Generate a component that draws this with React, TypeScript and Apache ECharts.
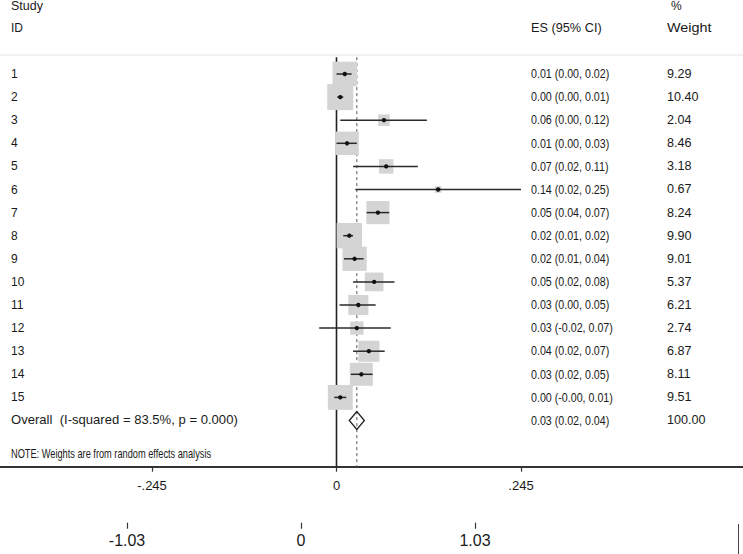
import React, { useEffect, useRef } from "react";
import * as echarts from "echarts";

// ---------- data ----------
const studyIds = ["1", "2", "3", "4", "5", "6", "7", "8", "9", "10", "11", "12", "13", "14", "15"];
const esPoint = [0.011, 0.005, 0.063, 0.014, 0.066, 0.135, 0.055, 0.017, 0.024, 0.05, 0.029, 0.027, 0.043, 0.033, 0.005];
const ciLow = [0.0, 0.001, 0.005, 0.0, 0.022, 0.025, 0.04, 0.009, 0.01, 0.022, 0.004, -0.023, 0.022, 0.019, -0.003];
const ciHigh = [0.02, 0.009, 0.12, 0.027, 0.108, 0.245, 0.07, 0.022, 0.036, 0.077, 0.052, 0.072, 0.064, 0.048, 0.013];
const weights = [9.29, 10.4, 2.04, 8.46, 3.18, 0.67, 8.24, 9.9, 9.01, 5.37, 6.21, 2.74, 6.87, 8.11, 9.51];
const esLabels = [
  "0.01 (0.00, 0.02)",
  "0.00 (0.00, 0.01)",
  "0.06 (0.00, 0.12)",
  "0.01 (0.00, 0.03)",
  "0.07 (0.02, 0.11)",
  "0.14 (0.02, 0.25)",
  "0.05 (0.04, 0.07)",
  "0.02 (0.01, 0.02)",
  "0.02 (0.01, 0.04)",
  "0.05 (0.02, 0.08)",
  "0.03 (0.00, 0.05)",
  "0.03 (-0.02, 0.07)",
  "0.04 (0.02, 0.07)",
  "0.03 (0.02, 0.05)",
  "0.00 (-0.00, 0.01)",
];
const weightLabels = ["9.29", "10.40", "2.04", "8.46", "3.18", "0.67", "8.24", "9.90", "9.01", "5.37", "6.21", "2.74", "6.87", "8.11", "9.51"];

const overallEs = 0.027;
const overallLow = 0.017;
const overallHigh = 0.037;
const overallLabel = "Overall  (I-squared = 83.5%, p = 0.000)";
const overallEsLabel = "0.03 (0.02, 0.04)";
const overallWeightLabel = "100.00";
const noteText = "NOTE: Weights are from random effects analysis";

const topTickValues = [-0.245, 0, 0.245];
const topTickLabels = ["-.245", "0", ".245"];
const bottomTickValues = [-1.03, 0, 1.03];
const bottomTickLabels = ["-1.03", "0", "1.03"];

// ---------- layout / style ----------
const W = 743;
const H = 554;
const FONT = "Liberation Sans, Arial, sans-serif";
const TXT = "#1a1a1a";
const BOX_PER_SQRT_W = 8.07;
const COL_ID = 11;
const COL_ES = 531;
const COL_W = 667;

function pickLabel(values: number[], labels: string[], v: number) {
  for (let i = 0; i < values.length; i++) {
    if (Math.abs(values[i] - v) < 1e-6) return labels[i];
  }
  return "";
}

export default function App() {
  const ref = useRef<HTMLDivElement>(null);

  useEffect(() => {
    document.body.style.margin = "0";
    if (!ref.current) return;
    const chart = echarts.init(ref.current, null, { renderer: "svg" });

    const nRows = studyIds.length + 1; // studies + overall
    const tableRows = Array.from({ length: nRows }, (_, i) => [0, i + 1]);

    const option: any = {
      animation: false,
      backgroundColor: "#ffffff",
      grid: { left: 0, right: 0, top: 50.9, bottom: 87.3, containLabel: false },
      xAxis: [
        {
          type: "value",
          min: -336.5 / 753,
          max: 406.5 / 753,
          position: "bottom",
          splitLine: { show: false },
          axisLine: { show: true, onZero: false, lineStyle: { color: "#333", width: 2 } },
          axisTick: { show: true, customValues: topTickValues, length: 5, lineStyle: { color: "#333", width: 1.2 } },
          axisLabel: {
            show: true,
            customValues: topTickValues,
            margin: 12,
            fontSize: 13,
            fontFamily: FONT,
            color: TXT,
            formatter: (v: number) => pickLabel(topTickValues, topTickLabels, v),
          },
        },
        {
          type: "value",
          min: -301 / 168.9,
          max: 442 / 168.9,
          position: "bottom",
          offset: 56,
          splitLine: { show: false },
          axisLine: { show: false, onZero: false },
          axisTick: { show: true, customValues: bottomTickValues, length: 6, lineStyle: { color: "#333", width: 1.2 } },
          axisLabel: {
            show: true,
            customValues: bottomTickValues,
            margin: 10,
            fontSize: 16,
            fontFamily: FONT,
            color: TXT,
            formatter: (v: number) => pickLabel(bottomTickValues, bottomTickLabels, v),
          },
        },
      ],
      yAxis: {
        type: "value",
        inverse: true,
        min: 0,
        max: 18,
        show: false,
      },
      graphic: [
        { type: "line", shape: { x1: 0, y1: 55, x2: W, y2: 55 }, style: { stroke: "#e4e4e4", lineWidth: 1 } },
        { type: "text", x: COL_ID, y: 6, scaleX: 1.04, style: { text: "Study", fontSize: 12, fontFamily: FONT, fill: TXT, verticalAlign: "middle", align: "left" } },
        { type: "text", x: COL_ID, y: 28, style: { text: "ID", fontSize: 12, fontFamily: FONT, fill: TXT, verticalAlign: "middle", align: "left" } },
        { type: "text", x: COL_ES, y: 28, scaleX: 1.06, style: { text: "ES (95% CI)", fontSize: 12, fontFamily: FONT, fill: TXT, verticalAlign: "middle", align: "left" } },
        { type: "text", x: COL_W + 4, y: 6, style: { text: "%", fontSize: 12, fontFamily: FONT, fill: TXT, verticalAlign: "middle", align: "left" } },
        { type: "text", x: COL_W, y: 28, scaleX: 1.2, style: { text: "Weight", fontSize: 12, fontFamily: FONT, fill: TXT, verticalAlign: "middle", align: "left" } },
        { type: "text", x: COL_ID, y: 454, scaleX: 0.77, style: { text: noteText, fontSize: 12, fontFamily: FONT, fill: TXT, verticalAlign: "middle", align: "left" } },
        { type: "line", shape: { x1: 738.5, y1: 524, x2: 738.5, y2: 554 }, style: { stroke: "#444", lineWidth: 1 } },
      ],
      series: [
        {
          name: "null",
          type: "line",
          xAxisIndex: 0,
          yAxisIndex: 0,
          symbol: "none",
          z: 1,
          data: [
            [0, 0.27],
            [0, 18],
          ],
          lineStyle: { color: "#222", width: 1.6 },
        },
        {
          name: "overallLine",
          type: "line",
          xAxisIndex: 0,
          yAxisIndex: 0,
          symbol: "none",
          z: 1,
          data: [
            [overallEs, 0.27],
            [overallEs, 18],
          ],
          lineStyle: { color: "#555", width: 1, type: [3, 3] },
        },
        {
          name: "studies",
          type: "custom",
          xAxisIndex: 0,
          yAxisIndex: 0,
          z: 3,
          clip: false,
          data: studyIds.map((_, i) => [esPoint[i], i + 1]),
          renderItem: (params: any, api: any) => {
            const i = params.dataIndex;
            const row = i + 1;
            const c = api.coord([esPoint[i], row]);
            const lo = api.coord([ciLow[i], row]);
            const hi = api.coord([ciHigh[i], row]);
            const s = BOX_PER_SQRT_W * Math.sqrt(weights[i]);
            return {
              type: "group",
              children: [
                { type: "rect", shape: { x: c[0] - s / 2, y: c[1] - s / 2, width: s, height: s }, style: { fill: "#d4d4d4" } },
                { type: "line", shape: { x1: lo[0], y1: c[1], x2: hi[0], y2: c[1] }, style: { stroke: "#2a2a2a", lineWidth: 1.5 } },
                { type: "circle", shape: { cx: c[0], cy: c[1], r: 2.2 }, style: { fill: "#111" } },
              ],
            };
          },
        },
        {
          name: "overall",
          type: "custom",
          xAxisIndex: 0,
          yAxisIndex: 0,
          z: 3,
          clip: false,
          data: [[overallEs, 16]],
          renderItem: (_params: any, api: any) => {
            const row = 16;
            const c = api.coord([overallEs, row]);
            const lo = api.coord([overallLow, row]);
            const hi = api.coord([overallHigh, row]);
            const h = 9;
            return {
              type: "polygon",
              shape: {
                points: [
                  [lo[0], c[1]],
                  [c[0], c[1] - h],
                  [hi[0], c[1]],
                  [c[0], c[1] + h],
                ],
              },
              style: { fill: "none", stroke: "#222", lineWidth: 1.3 },
            };
          },
        },
        {
          name: "table",
          type: "custom",
          xAxisIndex: 0,
          yAxisIndex: 0,
          z: 4,
          clip: false,
          data: tableRows,
          renderItem: (params: any, api: any) => {
            const i = params.dataIndex;
            const y = api.coord([0, i + 1])[1];
            const isOverall = i === studyIds.length;
            const idText = isOverall ? overallLabel : studyIds[i];
            const esText = isOverall ? overallEsLabel : esLabels[i];
            const wText = isOverall ? overallWeightLabel : weightLabels[i];
            const base = { fontSize: 12, fontFamily: FONT, fill: TXT, verticalAlign: "middle", align: "left" };
            return {
              type: "group",
              children: [
                { type: "text", x: COL_ID, y, scaleX: isOverall ? 1.09 : 1, style: { ...base, text: idText } },
                { type: "text", x: COL_ES, y, scaleX: 0.89, style: { ...base, text: esText } },
                { type: "text", x: COL_W, y, scaleX: 1.05, style: { ...base, text: wText } },
              ],
            };
          },
        },
      ],
    };

    chart.setOption(option);
    return () => chart.dispose();
  }, []);

  return <div ref={ref} style={{ width: W, height: H, position: "absolute", left: 0, top: 0 }} />;
}
